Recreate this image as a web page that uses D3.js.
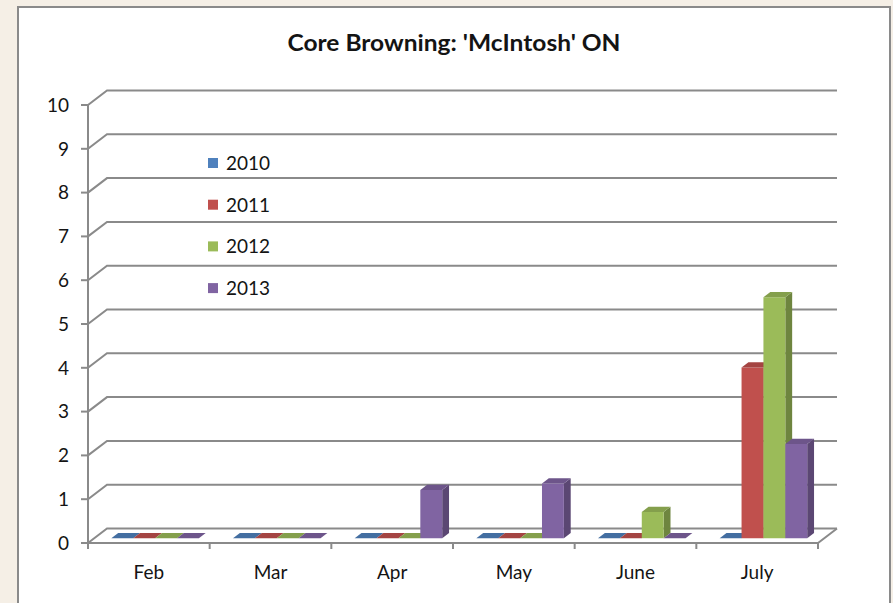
<!DOCTYPE html>
<html>
<head>
<meta charset="utf-8">
<script src="https://cdn.jsdelivr.net/npm/d3@7"></script>
<style>
  html, body { margin: 0; padding: 0; background: #F5EFE6; }
  svg { display: block; }
  text { font-family: Lato, "Open Sans", sans-serif; fill: #141414; }
</style>
</head>
<body>
<svg id="chart" width="893" height="603"></svg>
<script>
// Core browning incidence by month and season
const months = ["Feb", "Mar", "Apr", "May", "June", "July"];
const seriesNames = ["2010", "2011", "2012", "2013"];
const values2010 = [0, 0, 0, 0, 0, 0];
const values2011 = [0, 0, 0, 0, 0, 3.9];
const values2012 = [0, 0, 0, 0, 0.6, 5.5];
const values2013 = [0, 0, 1.1, 1.25, 0, 2.15];
const seriesColors = ["#4F81BD", "#C0504D", "#9BBB59", "#8064A2"];
const yTicks = [0, 1, 2, 3, 4, 5, 6, 7, 8, 9, 10];
const title = "Core Browning: 'McIntosh' ON";

const seriesValues = [values2010, values2011, values2012, values2013];

const svg = d3.select("#chart");
const W = 893, H = 603;

// chart frame
svg.append("rect")
  .attr("x", 18).attr("y", 7)
  .attr("width", 872).attr("height", H + 20)
  .attr("fill", "#ffffff")
  .attr("stroke", "#8a8a8a").attr("stroke-width", 2);

// title
svg.append("text")
  .attr("x", 454).attr("y", 51)
  .attr("text-anchor", "middle")
  .attr("font-size", 22).attr("font-weight", "bold")
  .attr("textLength", 333).attr("lengthAdjust", "spacingAndGlyphs")
  .text(title);

// plot geometry: front plane and oblique depth vector
const x0 = 88, x1 = 818;
const depth = { dx: 19, dy: -14.5 };
const x = d3.scaleBand().domain(months).range([x0, x1]);
const y = d3.scaleLinear().domain([0, 10]).range([543, 105]);
const xs = d3.scaleBand().domain(seriesNames)
  .range([0, x.bandwidth()]).paddingInner(0).paddingOuter(0.78);

// projection of a point at (px, value, depth fraction)
const proj = (px, v, d) => [px + d * depth.dx, y(v) + d * depth.dy];

const gridColor = "#8a8a8a";
const grid = svg.append("g");

// side wall + back wall gridlines
yTicks.forEach(t => {
  const a = proj(x0, t, 0), b = proj(x0, t, 1), c = proj(x1, t, 1);
  grid.append("polyline")
    .attr("points", [a, b, c].map(p => p.join(",")).join(" "))
    .attr("fill", "none").attr("stroke", gridColor).attr("stroke-width", 2);
});

// floor outline (front edge and right edge)
const f0 = proj(x0, 0, 0), f1 = proj(x1, 0, 0), f2 = proj(x1, 0, 1);
grid.append("polyline")
  .attr("points", [f0, f1, f2].map(p => p.join(",")).join(" "))
  .attr("fill", "none").attr("stroke", gridColor).attr("stroke-width", 2);

// value axis
grid.append("line")
  .attr("x1", x0).attr("x2", x0).attr("y1", y(10)).attr("y2", y(0) + 5)
  .attr("stroke", gridColor).attr("stroke-width", 2);
yTicks.forEach(t => {
  grid.append("line")
    .attr("x1", x0 - 7).attr("x2", x0).attr("y1", y(t)).attr("y2", y(t))
    .attr("stroke", gridColor).attr("stroke-width", 2);
  svg.append("text")
    .attr("x", 69).attr("y", y(t)).attr("dy", "0.36em")
    .attr("text-anchor", "end").attr("font-size", 19)
    .text(t);
});

// category axis ticks and labels
const bounds = months.map(m => x(m)).concat([x1]);
bounds.forEach(bx => {
  grid.append("line")
    .attr("x1", bx).attr("x2", bx).attr("y1", y(0)).attr("y2", y(0) + 6)
    .attr("stroke", gridColor).attr("stroke-width", 2);
});
months.forEach(m => {
  svg.append("text")
    .attr("x", x(m) + x.bandwidth() / 2).attr("y", 572).attr("dy", "0.36em")
    .attr("text-anchor", "middle").attr("font-size", 19)
    .text(m);
});

// 3D columns
const dFront = 0.33, dBack = 0.69;
const bars = svg.append("g");
const poly = pts => pts.map(p => p.join(",")).join(" ");
months.forEach((m, mi) => {
  seriesNames.forEach((s, si) => {
    const v = seriesValues[si][mi];
    const col = d3.color(seriesColors[si]);
    const top = col.darker(0.45).formatHex();
    const side = col.darker(0.95).formatHex();
    const L = x(m) + xs(s), R = L + xs.bandwidth();
    const fbl = proj(L, 0, dFront), fbr = proj(R, 0, dFront);
    const ftl = proj(L, v, dFront), ftr = proj(R, v, dFront);
    const btl = proj(L, v, dBack), btr = proj(R, v, dBack);
    const bbr = proj(R, 0, dBack);
    if (v > 0) {
      bars.append("polygon").attr("points", poly([fbr, ftr, btr, bbr])).attr("fill", side);
      bars.append("polygon").attr("points", poly([fbl, fbr, ftr, ftl])).attr("fill", col.formatHex());
    }
    bars.append("polygon").attr("points", poly([ftl, ftr, btr, btl])).attr("fill", top);
  });
});

// legend
const legend = svg.append("g");
seriesNames.forEach((s, i) => {
  const cy = 163 + i * 41.7;
  legend.append("rect")
    .attr("x", 208).attr("y", cy - 5).attr("width", 10).attr("height", 10)
    .attr("fill", seriesColors[i]);
  legend.append("text")
    .attr("x", 226).attr("y", cy).attr("dy", "0.36em")
    .attr("font-size", 19)
    .text(s);
});
</script>
</body>
</html>
